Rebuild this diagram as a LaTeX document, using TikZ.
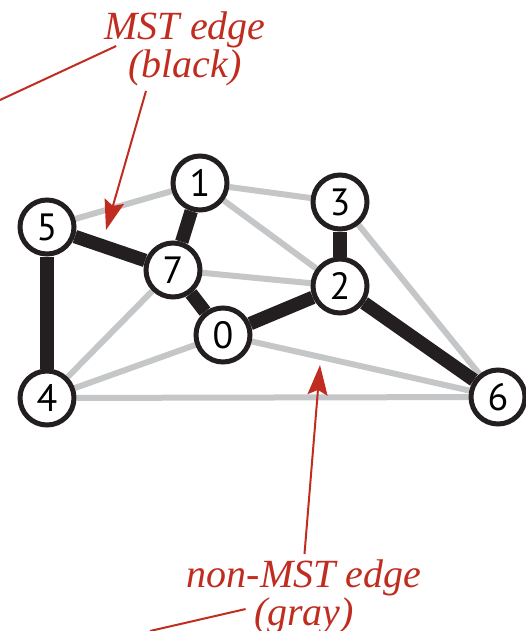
\documentclass[tikz,border=0pt]{standalone}
\usepackage{fontspec}
\setmainfont{Liberation Serif}
\setsansfont{PT Sans}
\usetikzlibrary{arrows.meta,backgrounds}
\definecolor{inkblack}{RGB}{35,31,32}
\definecolor{edgegray}{RGB}{196,198,200}
\definecolor{notered}{RGB}{192,45,32}

\begin{document}
\begin{tikzpicture}[x=1pt,y=-1pt,
    vertex/.style={circle,draw=inkblack,line width=5pt,fill=white,minimum size=54pt,inner sep=0pt,
        font=\sffamily\fontsize{38}{38}\selectfont},
    treeedge/.style={line width=13.5pt,color=inkblack},
    grayedge/.style={line width=6pt,color=edgegray},
    callout/.style={color=notered,line width=2pt},
    note/.style={text=notered,inner sep=0pt,align=center,font=\itshape\fontsize{40}{35}\selectfont}]
    \useasboundingbox (0,0) rectangle (526,631);

    % the graph
    \node[vertex] (v0) at (223,335) {0};
    \node[vertex] (v1) at (200,183) {1};
    \node[vertex] (v2) at (340,286) {2};
    \node[vertex] (v3) at (340,202) {3};
    \node[vertex] (v4) at (47,398)  {4};
    \node[vertex] (v5) at (47,227)  {5};
    \node[vertex] (v6) at (498,397) {6};
    \node[vertex] (v7) at (173,270) {7};

    \begin{scope}[on background layer]
        \foreach \a/\b in {v5/v1, v1/v3, v1/v2, v7/v2, v7/v4, v0/v4, v0/v6, v4/v6, v3/v6}
            \draw[grayedge] (\a) -- (\b);
        \foreach \a/\b in {v5/v7, v1/v7, v7/v0, v0/v2, v2/v3, v2/v6, v5/v4}
            \draw[treeedge] (\a) -- (\b);
    \end{scope}

    % labels
    \node[note] (mst) at (185,49) {MST edge\\(black)};
    \node[note] (nonmst) at (304,597) {non-MST edge\\(gray)};

    \coordinate (tip1) at (106,230);
    \coordinate (tip2) at (320,365);
    \coordinate (lead1) at (0,100);
    \coordinate (lead2) at (150,631);

    \draw[callout] (lead1) -- ([shift={(12,-3)}]mst.west);
    \draw[callout] (lead2) -- ([shift={(59,-25)}]nonmst.south west);
    \draw[callout,-{Stealth[length=30pt,width=20pt,inset=5pt]}] ([shift={(-39,5)}]mst.south) -- (tip1);
    \draw[callout,-{Stealth[length=30pt,width=20pt,inset=5pt]},shorten <=6pt] (nonmst.north) -- (tip2);
\end{tikzpicture}
\end{document}
